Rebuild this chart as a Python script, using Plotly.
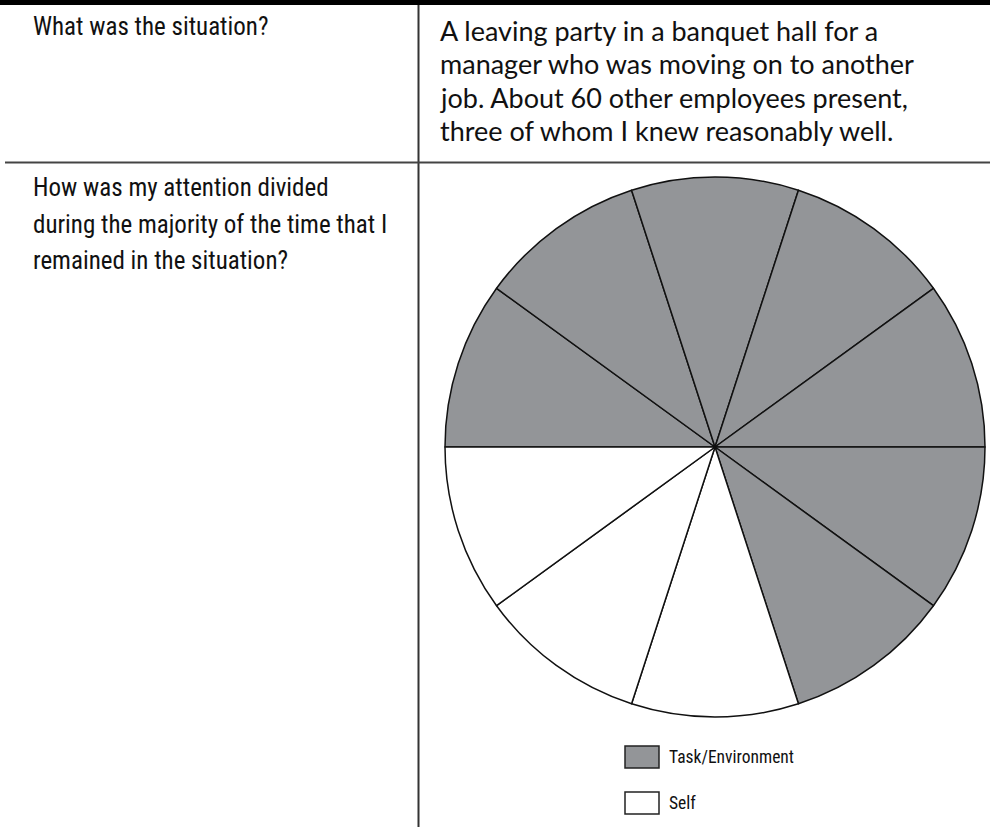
import plotly.graph_objects as go

# ---- data ----
slice_groups = ["Task/Environment"] * 7 + ["Self"] * 3
slice_labels = [f"{g} {i+1}" for i, g in enumerate(slice_groups)]
slice_values = [1] * 10
group_colors = {"Task/Environment": "#939598", "Self": "#ffffff"}
legend_items = ["Task/Environment", "Self"]

question_1 = ["What was the situation?"]
answer_1 = [
    "A leaving party in a banquet hall for a",
    "manager who was moving on to another",
    "job. About 60 other employees present,",
    "three of whom I knew reasonably well.",
]
question_2 = [
    "How was my attention divided",
    "during the majority of the time that I",
    "remained in the situation?",
]

W, H = 990, 827
def px(x):
    return x / W
def py(y):
    return 1 - y / H

COND = "Liberation Sans Narrow, Roboto Condensed, Roboto, sans-serif"
HAND = "Lato, Open Sans, sans-serif"

fig = go.Figure()
fig.add_trace(go.Pie(
    labels=slice_labels,
    values=slice_values,
    sort=False,
    direction="clockwise",
    rotation=270,
    textinfo="none",
    hoverinfo="label",
    showlegend=False,
    marker=dict(colors=[group_colors[g] for g in slice_groups],
                line=dict(color="#111111", width=1.5)),
    domain=dict(x=[px(445), px(985)], y=[py(717), py(177)]),
))

shapes = []
# table rules
shapes.append(dict(type="rect", xref="paper", yref="paper", x0=0, x1=1,
                   y0=py(5), y1=1, fillcolor="black", line=dict(width=0)))
shapes.append(dict(type="line", xref="paper", yref="paper", x0=px(418.5), x1=px(418.5),
                   y0=py(5), y1=0, line=dict(color="#333333", width=2)))
shapes.append(dict(type="line", xref="paper", yref="paper", x0=px(5), x1=1,
                   y0=py(162.5), y1=py(162.5), line=dict(color="#444444", width=2)))

annotations = []
def add_line(text, x, y, size, family, color="#111111"):
    annotations.append(dict(text=text, xref="paper", yref="paper", x=px(x), y=py(y),
                            xanchor="left", yanchor="middle", showarrow=False,
                            font=dict(size=size, family=family, color=color)))

for t, y in zip(question_1, [26]):
    add_line(t, 31, y, 25, COND)
for t, y in zip(question_2, [188, 224, 260]):
    add_line(t, 31, y, 25, COND)
for t, y in zip(answer_1, [30, 64, 97, 131]):
    add_line(t, 438, y, 27, HAND)

# legend
for item, yc in zip(legend_items, [757, 803]):
    shapes.append(dict(type="rect", xref="paper", yref="paper",
                       x0=px(625), x1=px(659), y0=py(yc + 11), y1=py(yc - 11),
                       fillcolor=group_colors[item], line=dict(color="#222222", width=1.5)))
    add_line(item, 667, yc, 17.5, COND)

fig.update_layout(
    width=W, height=H,
    margin=dict(l=0, r=0, t=0, b=0),
    paper_bgcolor="white", plot_bgcolor="white",
    shapes=shapes, annotations=annotations,
)
fig.write_html("out.html", config={"displayModeBar": False},
               post_script="document.body.style.margin='0';document.body.style.overflow='hidden';")
